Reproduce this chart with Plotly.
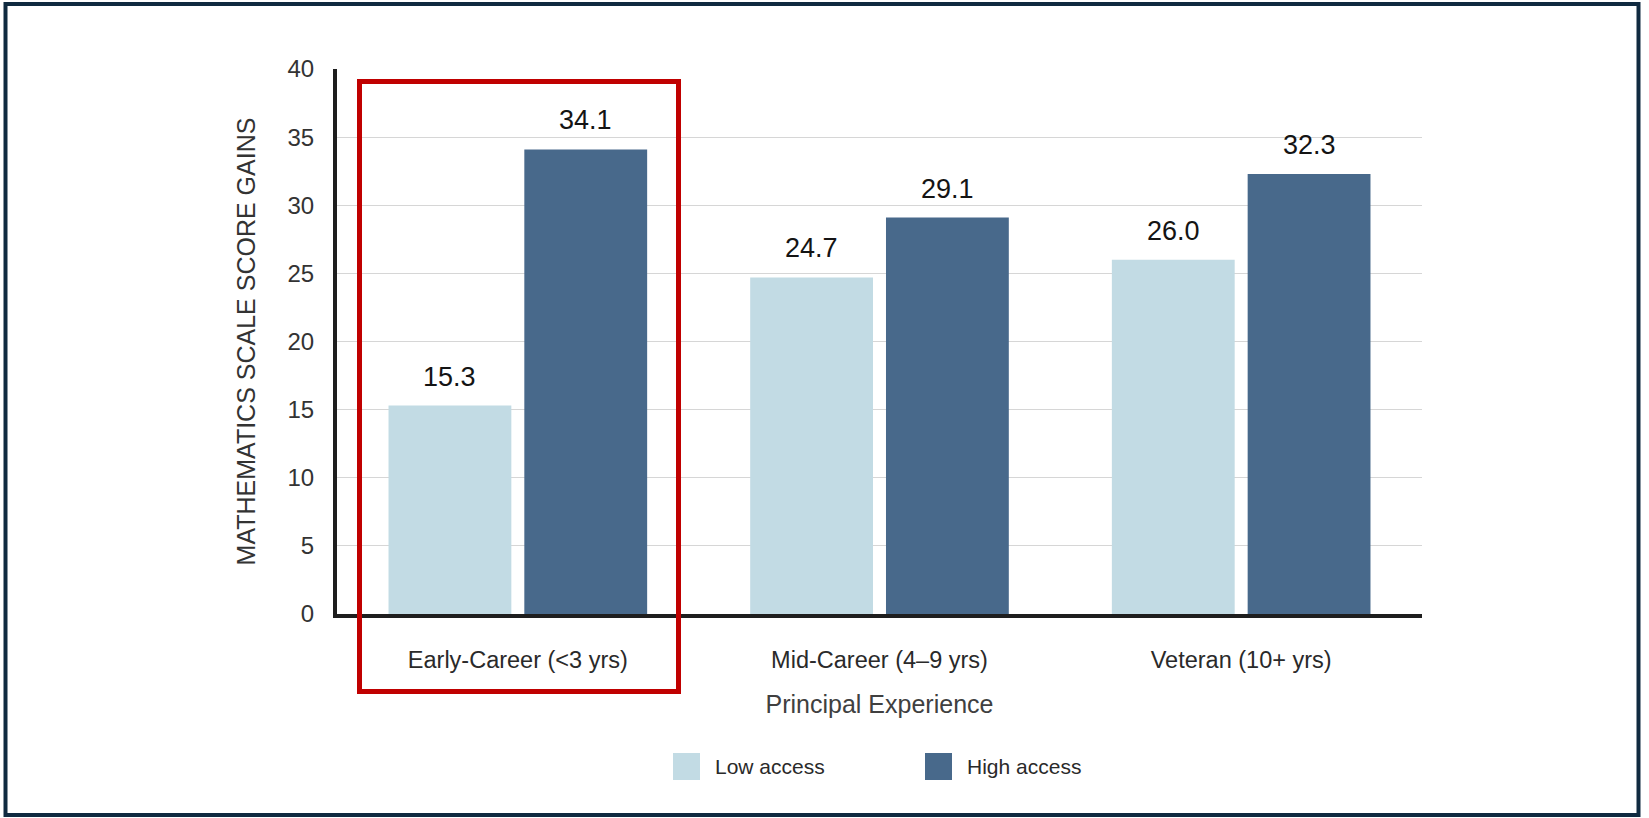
import plotly.graph_objects as go

# ---- data ----
categories = ["Early-Career (<3 yrs)", "Mid-Career (4\u20139 yrs)", "Veteran (10+ yrs)"]
series_names = ["Low access", "High access"]
low_access = [15.3, 24.7, 26.0]
high_access = [34.1, 29.1, 32.3]
y_ticks = [0, 5, 10, 15, 20, 25, 30, 35, 40]

# ---- style ----
W, H = 1649, 818
L, R, T, B = 337, 1422, 69, 614  # plot area in px
colors = ["#c2dbe4", "#48698b"]
FONT = "Liberation Sans, Arial, sans-serif"


def px_x(p):
    return (p - L) / (R - L)


def px_y(p):
    return (B - p) / (B - T)


fig = go.Figure()
for name, vals, col in zip(series_names, [low_access, high_access], colors):
    fig.add_trace(go.Bar(name=name, x=categories, y=vals, marker=dict(color=col, line=dict(width=0)),
                         showlegend=False))

annotations = []
slot_shift = 68
for i, vals in enumerate([low_access, high_access]):
    sh = -slot_shift if i == 0 else slot_shift
    for c, v in zip(categories, vals):
        annotations.append(dict(x=c, y=v, xref="x", yref="y", text=f"{v:.1f}", showarrow=False,
                                xshift=sh, yshift=12, yanchor="bottom",
                                font=dict(family=FONT, size=27, color="#141414")))

shapes = []
# red highlight box
shapes.append(dict(type="rect", xref="paper", yref="paper",
                   x0=px_x(359.5), x1=px_x(678.5), y0=px_y(691.5), y1=px_y(81.5),
                   line=dict(color="#c00000", width=5), layer="above"))
# outer frame
shapes.append(dict(type="rect", xref="paper", yref="paper",
                   x0=px_x(5.5), x1=px_x(1638.5), y0=px_y(815), y1=px_y(4),
                   line=dict(color="#102a40", width=4), layer="above"))
# manual legend
leg_x = [673, 925]
for name, col, lx in zip(series_names, colors, leg_x):
    shapes.append(dict(type="rect", xref="paper", yref="paper",
                       x0=px_x(lx), x1=px_x(lx + 27), y0=px_y(780), y1=px_y(753),
                       fillcolor=col, line=dict(width=0)))
    annotations.append(dict(x=px_x(lx + 40), y=px_y(766.5), xref="paper", yref="paper",
                            text=name, showarrow=False, xanchor="left", yanchor="middle",
                            font=dict(family=FONT, size=21, color="#2a2a2a")))

fig.update_layout(
    width=W, height=H,
    margin=dict(l=L, r=W - R, t=T, b=H - B, autoexpand=False),
    paper_bgcolor="white", plot_bgcolor="white",
    barmode="group", bargap=0.249, bargroupgap=0.0956,
    font=dict(family=FONT, color="#333333"),
    annotations=annotations, shapes=shapes,
    showlegend=False,
)
fig.update_xaxes(
    showline=True, linecolor="#1e1e1e", linewidth=4, showgrid=False, ticks="",
    tickfont=dict(family=FONT, size=23.5, color="#2a2a2a"), ticklabelstandoff=22,
    title=dict(text="Principal Experience", font=dict(family=FONT, size=25, color="#404040"), standoff=24),
    automargin=False,
)
fig.update_yaxes(
    range=[0, 40], tickvals=y_ticks, showline=True, linecolor="#1e1e1e", linewidth=4,
    showgrid=True, gridcolor="#d6d6d6", gridwidth=1, zeroline=False, ticks="",
    tickfont=dict(family=FONT, size=24, color="#333333"), ticklabelstandoff=14,
    title=dict(text="MATHEMATICS SCALE SCORE GAINS", font=dict(family=FONT, size=25, color="#333333"), standoff=26),
    automargin=False,
)

fig.write_html("out.html")
